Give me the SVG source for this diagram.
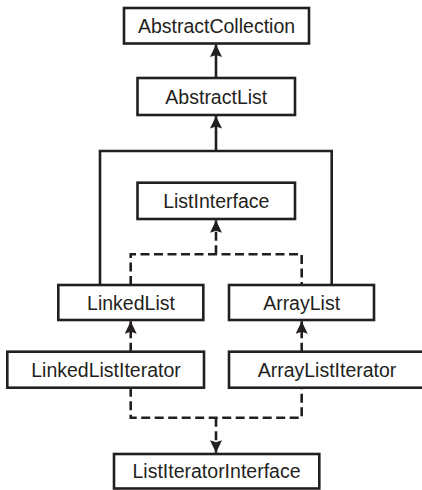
<svg xmlns="http://www.w3.org/2000/svg" width="422" height="490" viewBox="0 0 422 490">
<style>
.box{fill:#fff;stroke:#231f20;stroke-width:2.6}
.lbl{font-family:"Liberation Sans",Arial,Helvetica,sans-serif;font-size:19.5px;fill:#231f20;text-anchor:middle}
.solid{fill:none;stroke:#231f20;stroke-width:2.6}
.dash{fill:none;stroke:#231f20;stroke-width:2.6;stroke-dasharray:9 4.5}
</style>
<defs>
<marker id="arr" markerUnits="userSpaceOnUse" markerWidth="14" markerHeight="14" viewBox="-7 -1 14 14" refX="0" refY="0" orient="auto-start-reverse">
<path d="M0,0 L6,12.5 L0,10.5 L-6,12.5 Z" fill="#231f20" transform="rotate(0)"/>
</marker>
<marker id="up" markerUnits="userSpaceOnUse" markerWidth="14" markerHeight="14" viewBox="-7 -1 14 14" refX="0" refY="0" orient="0">
<path d="M0,0 L6,12.5 L0,10.5 L-6,12.5 Z" fill="#231f20"/>
</marker>
<marker id="down" markerUnits="userSpaceOnUse" markerWidth="14" markerHeight="14" viewBox="-7 -13 14 14" refX="0" refY="0" orient="0">
<path d="M0,0 L6,-12.5 L0,-10.5 L-6,-12.5 Z" fill="#231f20"/>
</marker>
</defs>
<g id="connectors">
<path class="solid" d="M216,78 V44.5" marker-end="url(#up)"/>
<path class="solid" d="M100,285 V151 H331.7 V285"/>
<path class="solid" d="M216,151 V116" marker-end="url(#up)"/>
<path class="dash" d="M130.7,285 V254.3 H301.7 V285"/>
<path class="dash" d="M216,254.3 V220.3" marker-end="url(#up)"/>
<path class="dash" d="M130.7,351.7 V321.3" marker-end="url(#up)"/>
<path class="dash" d="M301.7,351.7 V321.3" marker-end="url(#up)"/>
<path class="dash" d="M130.7,387.7 V417.7 H301.7 V387.7"/>
<path class="dash" d="M216,417.7 V452.7" marker-end="url(#down)"/>
</g>
<g id="AbstractCollection">
<rect class="box" x="124" y="8" width="185" height="35.5"/>
<text class="lbl" x="216.5" y="32.5">AbstractCollection</text>
</g>
<g id="AbstractList">
<rect class="box" x="137.5" y="78" width="157.5" height="37"/>
<text class="lbl" x="216.3" y="103.5">AbstractList</text>
</g>
<g id="ListInterface">
<rect class="box" x="137.5" y="182.7" width="157.5" height="36.3"/>
<text class="lbl" x="216.3" y="207.5">ListInterface</text>
</g>
<g id="LinkedList">
<rect class="box" x="58.3" y="285" width="145" height="35"/>
<text class="lbl" x="131" y="309.5">LinkedList</text>
</g>
<g id="ArrayList">
<rect class="box" x="229" y="285" width="145" height="35"/>
<text class="lbl" x="301.6" y="309.5">ArrayList</text>
</g>
<g id="LinkedListIterator">
<rect class="box" x="7.3" y="351.7" width="196.7" height="36"/>
<text class="lbl" x="106" y="376.5">LinkedListIterator</text>
</g>
<g id="ArrayListIterator">
<rect class="box" x="229" y="351.7" width="196" height="36"/>
<text class="lbl" x="327" y="376.5">ArrayListIterator</text>
</g>
<g id="ListIteratorInterface">
<rect class="box" x="114" y="454" width="205.3" height="34.5"/>
<text class="lbl" x="216.5" y="478">ListIteratorInterface</text>
</g>
</svg>
